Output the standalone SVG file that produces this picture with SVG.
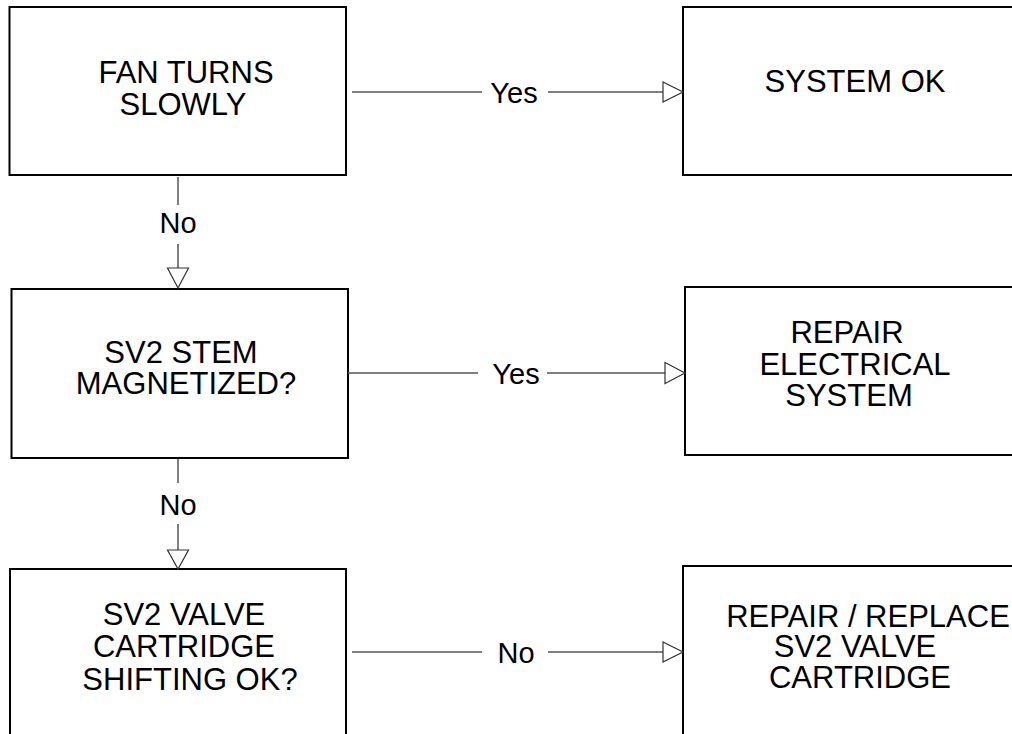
<svg xmlns="http://www.w3.org/2000/svg" width="1012" height="734" viewBox="0 0 1012 734">
<style>
.box{fill:#fff;stroke:#000;stroke-width:2}
.t{font-family:"Liberation Sans",Arial,sans-serif;font-size:31px;fill:#000;text-anchor:middle}
.lbl{font-family:"Liberation Sans",Arial,sans-serif;font-size:29px;fill:#000;text-anchor:middle}
.ln{stroke:#555;stroke-width:1.5;fill:none}
.ah{fill:#fff;stroke:#333;stroke-width:1.2}
</style>
<rect width="1012" height="734" fill="#fff"/>
<g id="n1"><rect class="box" x="9.5" y="7" width="336.5" height="168"/>
<text class="t" x="186" y="83">FAN TURNS</text><text class="t" x="183" y="115">SLOWLY</text></g>
<g id="n2"><rect class="box" x="683" y="7" width="340" height="168"/>
<text class="t" x="855" y="92">SYSTEM OK</text></g>
<g id="n3"><rect class="box" x="11.5" y="289" width="336.5" height="169"/>
<text class="t" x="181" y="363">SV2 STEM</text><text class="t" x="186" y="394">MAGNETIZED?</text></g>
<g id="n4"><rect class="box" x="685" y="287" width="340" height="168"/>
<text class="t" x="847" y="343">REPAIR</text><text class="t" x="855" y="375">ELECTRICAL</text><text class="t" x="849" y="406">SYSTEM</text></g>
<g id="n5"><rect class="box" x="10" y="569" width="336" height="180"/>
<text class="t" x="184" y="625">SV2 VALVE</text><text class="t" x="184" y="657">CARTRIDGE</text><text class="t" x="190" y="690">SHIFTING OK?</text></g>
<g id="n6"><rect class="box" x="683" y="566" width="340" height="180"/>
<text class="t" x="868" y="627">REPAIR / REPLACE</text><text class="t" x="855" y="657">SV2 VALVE</text><text class="t" x="860" y="688">CARTRIDGE</text></g>
<g id="connectors">
<path class="ln" d="M352 92H482M548 92H665"/>
<polygon class="ah" points="663,82 683,92 663,102"/>
<text class="lbl" x="514" y="103">Yes</text>
<path class="ln" d="M178 177V205M178 244V270"/>
<polygon class="ah" points="167.5,268 188.5,268 178,288"/>
<text class="lbl" x="178" y="233">No</text>
<path class="ln" d="M348 373H478M547 373H667"/>
<polygon class="ah" points="665,362.5 685,373 665,383.5"/>
<text class="lbl" x="516" y="384">Yes</text>
<path class="ln" d="M178 459V483M178 524V552"/>
<polygon class="ah" points="167.5,550 188.5,550 178,569"/>
<text class="lbl" x="178" y="515">No</text>
<path class="ln" d="M352 652H482M548 652H665"/>
<polygon class="ah" points="663,642 683,652 663,662"/>
<text class="lbl" x="516" y="663">No</text>
</g>
</svg>
